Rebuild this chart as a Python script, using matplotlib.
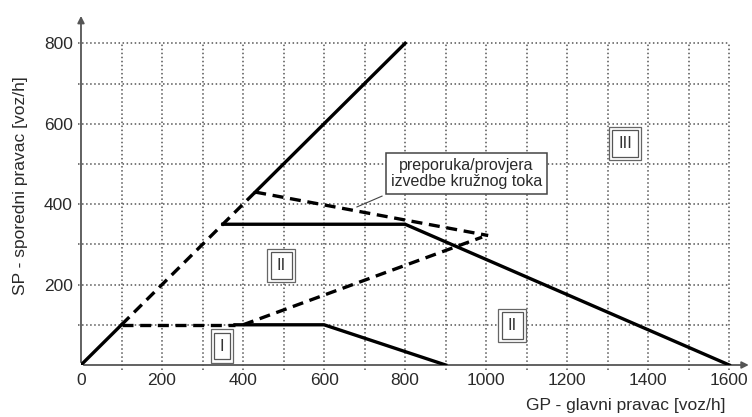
import matplotlib
matplotlib.use("Agg")
import matplotlib.pyplot as plt
import numpy as np

plt.rcParams['font.family'] = ['Liberation Sans', 'DejaVu Sans']

# granice podrucja (GP, SP)
low_solid_x = [0, 100]
low_solid_y = [0, 100]
diag_dash_x = [100, 430]
diag_dash_y = [100, 430]
diag_solid_x = [430, 800]
diag_solid_y = [430, 800]
limit2_x = [350, 800, 1600]
limit2_y = [350, 350, 0]
limit1_dash_x = [100, 380]
limit1_dash_y = [100, 100]
limit1_x = [380, 600, 900]
limit1_y = [100, 100, 0]
check_up_x = [430, 1005]
check_up_y = [430, 322]
check_low_x = [400, 990]
check_low_y = [100, 318]

# oznake podrucja
zone_labels = ['I', 'II', 'II', 'III']
zone_x = [348, 494, 1064, 1343]
zone_y = [47, 248, 99, 551]

x_ticks = [0, 200, 400, 600, 800, 1000, 1200, 1400, 1600]
y_ticks = [200, 400, 600, 800]

note_text = 'preporuka/provjera\nizvedbe kružnog toka'
x_label = 'GP - glavni pravac [voz/h]'
y_label = 'SP - sporedni pravac [voz/h]'

fig = plt.figure(figsize=(7.52, 4.17), dpi=100)
ax = fig.add_axes([0.1077, 0.1247, 0.889, 0.839])
ax.set_xlim(0, 1650)
ax.set_ylim(0, 870)

txt_col = '#2a2a2a'
grid_col = '#555555'

# tockasta mreza
for gx in np.arange(100, 1601, 100):
    ax.plot([gx, gx], [-12, 800], ls=':', lw=1.1, color=grid_col, clip_on=False, zorder=1)
for gy in np.arange(100, 801, 100):
    ax.plot([-8, 1600], [gy, gy], ls=':', lw=1.1, color=grid_col, clip_on=False, zorder=1)

# osi sa strelicama
for s in ax.spines.values():
    s.set_visible(False)
ax.annotate('', xy=(1655, 0), xytext=(0, 0), xycoords='data',
            arrowprops=dict(arrowstyle='-|>', color='#555555', lw=1.3, mutation_scale=10),
            annotation_clip=False, zorder=2)
ax.annotate('', xy=(0, 875), xytext=(0, 0), xycoords='data',
            arrowprops=dict(arrowstyle='-|>', color='#555555', lw=1.3, mutation_scale=10),
            annotation_clip=False, zorder=2)

lw = 2.4
dash = (0, (3.3, 2.0))
ax.plot(low_solid_x, low_solid_y, color='black', lw=lw, zorder=3)
ax.plot(diag_dash_x, diag_dash_y, color='black', lw=lw, ls=dash, zorder=3)
ax.plot(diag_solid_x, diag_solid_y, color='black', lw=lw, zorder=3)
ax.plot(limit2_x, limit2_y, color='black', lw=lw, zorder=3)
ax.plot(limit1_dash_x, limit1_dash_y, color='black', lw=lw, ls=dash, zorder=3)
ax.plot(limit1_x, limit1_y, color='black', lw=lw, zorder=3)
ax.plot(check_up_x, check_up_y, color='black', lw=lw, ls=dash, zorder=3)
ax.plot(check_low_x, check_low_y, color='black', lw=lw, ls=dash, zorder=3)

# napomena
ax.text(951, 477, note_text, ha='center', va='center', fontsize=11.5, color=txt_col,
        linespacing=1.1, zorder=5,
        bbox=dict(boxstyle='square,pad=0.3', fc='white', ec='#444444', lw=1.1))
ax.plot([743, 681], [420, 393], color='#444444', lw=0.8, zorder=4)

# oznake podrucja u dvostrukom okviru
for lab, zx, zy in zip(zone_labels, zone_x, zone_y):
    ax.text(zx, zy, lab, ha='center', va='center', fontsize=12, color='#333333',
            zorder=6,
            bbox=dict(boxstyle='square,pad=0.35', fc='white', ec='#555555', lw=0.9))
    ax.text(zx, zy, lab, ha='center', va='center', fontsize=12, color='#333333',
            zorder=5,
            bbox=dict(boxstyle='square,pad=0.55', fc='white', ec='#666666', lw=0.9))

ax.set_xticks(x_ticks)
ax.set_yticks(y_ticks)
ax.tick_params(length=0, labelsize=12.5, labelcolor=txt_col, pad=6)

fig.text(0.832, 0.028, x_label, ha='center', va='center', fontsize=12.5, color=txt_col)
fig.text(0.027, 0.555, y_label, ha='center', va='center', fontsize=12.5, color=txt_col,
         rotation=90)

fig.savefig('out.png', dpi=100)
